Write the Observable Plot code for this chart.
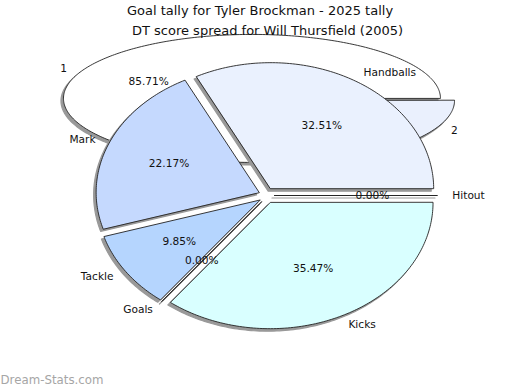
<!DOCTYPE html>
<html><head><meta charset="utf-8">
<script src="https://cdn.jsdelivr.net/npm/d3@7"></script>
<script src="https://cdn.jsdelivr.net/npm/@observablehq/plot@0.6"></script>
<style>body{margin:0;background:#fff} svg{display:block;font-family:"DejaVu Sans",sans-serif}</style>
</head><body><div id="chart"></div>
<script>
// ---- data ----
const tallyTitle = "Goal tally for Tyler Brockman - 2025 tally";
const tallyLabels = ["1", "2"];
const tallyValues = [6, 1];
const tallyColors = ["#ffffff", "#eaf0fd"];

const dtTitle = "DT score spread for Will Thursfield (2005)";
const dtLabels = ["Handballs", "Mark", "Tackle", "Goals", "Kicks", "Hitout"];
const dtValues = [66, 45, 20, 0, 72, 0];
const dtColors = ["#eaf1fe", "#c5d9fe", "#b5d5fe", "#c8dcff", "#d9ffff", "#e0e8ff"];

const watermark = "Dream-Stats.com";

// ---- layout ----
const pies = [
  {labels: tallyLabels, values: tallyValues, colors: tallyColors,
   cx: 258.5, cy: 99, rx: 188.5, ry: 64, ex: 7.8, ey: 2.5, rIn: 0.65, rOut: 1.13},
  {labels: dtLabels, values: dtValues, colors: dtColors,
   cx: 266, cy: 195, rx: 163, ry: 126, ex: 8, ey: 8, rIn: 0.65, rOut: 1.14}
];
const FS = 10.6;

const marks = [];
for (const p of pies) {
  const total = d3.sum(p.values);
  let a = 0;
  const inner = [], outerL = [], outerR = [];
  p.values.forEach((v, i) => {
    const a0 = a, a1 = a + v / total * 2 * Math.PI;
    a = a1;
    const mid = (a0 + a1) / 2;
    const ox = p.ex * Math.cos(mid), oy = -p.ey * Math.sin(mid);
    const pts = [{x: p.cx + ox, y: p.cy + oy}];
    const n = Math.max(1, Math.ceil((a1 - a0) / (Math.PI / 180)));
    for (let k = 0; k <= n; k++) {
      const t = a0 + (a1 - a0) * k / n;
      pts.push({x: p.cx + ox + p.rx * Math.cos(t), y: p.cy + oy - p.ry * Math.sin(t)});
    }
    marks.push(Plot.line(pts, {x: "x", y: "y", curve: "linear-closed", fill: "#999", stroke: "#999", strokeWidth: 1.2, dx: -2.5, dy: 2.5}));
    marks.push(Plot.line(pts, {x: "x", y: "y", curve: "linear-closed", fill: p.colors[i], stroke: "#222", strokeWidth: 0.9}));
    inner.push({x: p.cx + p.rIn * p.rx * Math.cos(mid), y: p.cy - p.rIn * p.ry * Math.sin(mid),
                t: (v / total * 100).toFixed(2) + "%"});
    const o = {x: p.cx + p.rOut * p.rx * Math.cos(mid), y: p.cy - p.rOut * p.ry * Math.sin(mid), t: p.labels[i]};
    (Math.cos(mid) >= -1e-9 ? outerR : outerL).push(o);
  });
  marks.push(Plot.text(inner, {x: "x", y: "y", text: "t", fontSize: FS, fill: "#111"}));
  marks.push(Plot.text(outerR, {x: "x", y: "y", text: "t", fontSize: FS, fill: "#111", textAnchor: "start"}));
  marks.push(Plot.text(outerL, {x: "x", y: "y", text: "t", fontSize: FS, fill: "#111", textAnchor: "end"}));
}
marks.push(Plot.text([tallyTitle], {text: d => d, frameAnchor: "top", lineAnchor: "middle", dy: 10, dx: -0.5, fontSize: 13, fill: "#111"}));
marks.push(Plot.text([dtTitle], {text: d => d, frameAnchor: "top", lineAnchor: "middle", dy: 30, dx: 7, fontSize: 13, fill: "#111"}));
marks.push(Plot.text([watermark], {text: d => d, frameAnchor: "bottom-left", textAnchor: "start", lineAnchor: "middle", dy: -10, dx: 0, fontSize: 11.8, fill: "#a6a6a6"}));

const chart = Plot.plot({
  width: 520, height: 390, margin: 0,
  style: {fontFamily: "DejaVu Sans, sans-serif", background: "#fff"},
  x: {domain: [0, 520], range: [0, 520], axis: null},
  y: {domain: [0, 390], range: [0, 390], axis: null},
  marks
});
document.getElementById("chart").append(chart);
</script>
</body></html>
